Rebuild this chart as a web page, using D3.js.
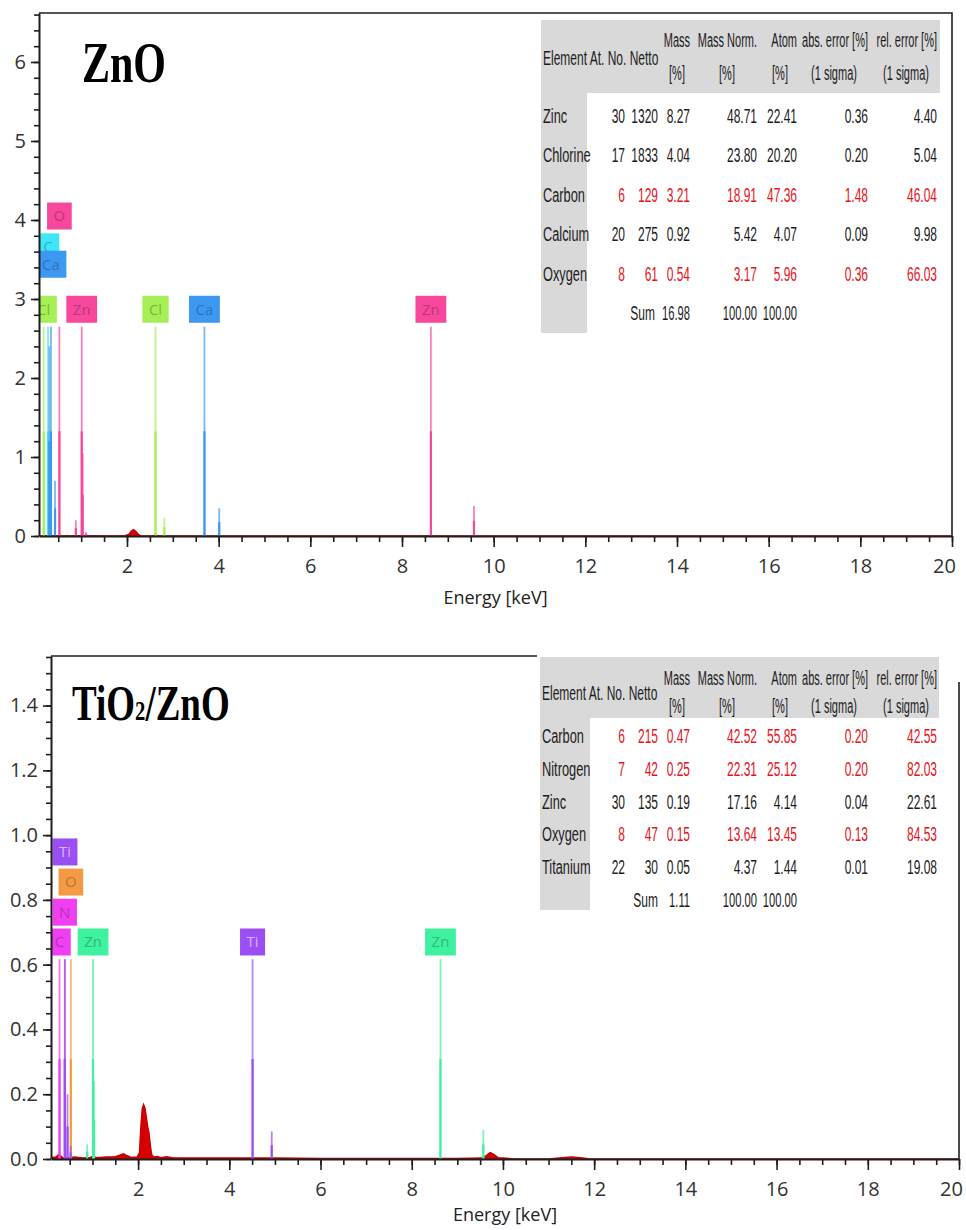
<!DOCTYPE html>
<html>
<head>
<meta charset="utf-8">
<script src="https://cdn.jsdelivr.net/npm/d3@7"></script>
<style>
  body { margin: 0; background: #fff; }
  svg { display: block; }
</style>
</head>
<body>
<svg id="chart"></svg>
<script>
// ---------- shared axis labels ----------
const xTickLabels = [2, 4, 6, 8, 10, 12, 14, 16, 18, 20];
const xTitle = "Energy [keV]";

// ---------- panel 1 : ZnO ----------
const znoTitle = "ZnO";
const znoYTicks = [0, 1, 2, 3, 4, 5, 6];
// spectrum [energy keV, counts]
const znoSpectrum = [
  [0.08, 0], [0.2, 0.004], [0.35, 0.003], [0.6, 0.002], [1.0, 0.003], [1.5, 0.002],
  [1.95, 0.003], [2.04, 0.02], [2.09, 0.06], [2.14, 0.08], [2.19, 0.06], [2.24, 0.025],
  [2.29, 0.004], [2.55, 0.002], [2.62, 0.01], [2.68, 0.002], [4, 0.001], [8.6, 0.002],
  [9, 0], [20, 0]
];
// element marker lines: energy, height
const znoLines = [
  { el: "Cl", e: 0.183, h: 2.65 },
  { el: "C",  e: 0.277, h: 2.65 },
  { el: "Ca", e: 0.306, h: 2.4 },
  { el: "Ca", e: 0.341, h: 2.65 },
  { el: "Ca", e: 0.43,  h: 0.7 },
  { el: "O",  e: 0.525, h: 2.65 },
  { el: "Zn", e: 0.884, h: 0.2 },
  { el: "Zn", e: 1.012, h: 2.65 },
  { el: "Zn", e: 1.034, h: 1.05 },
  { el: "Zn", e: 1.107, h: 0.05 },
  { el: "Cl", e: 2.622, h: 2.65 },
  { el: "Cl", e: 2.815, h: 0.23 },
  { el: "Ca", e: 3.69,  h: 2.65 },
  { el: "Ca", e: 4.012, h: 0.35 },
  { el: "Zn", e: 8.63,  h: 2.65 },
  { el: "Zn", e: 9.57,  h: 0.38 }
];
// element label boxes: energy, vertical centre
const znoLabels = [
  { el: "O",  e: 0.525, v: 4.05 },
  { el: "C",  e: 0.277, v: 3.66 },
  { el: "Ca", e: 0.341, v: 3.44 },
  { el: "Cl", e: 0.183, v: 2.87 },
  { el: "Zn", e: 1.012, v: 2.87 },
  { el: "Cl", e: 2.622, v: 2.87 },
  { el: "Ca", e: 3.69,  v: 2.87 },
  { el: "Zn", e: 8.63,  v: 2.87 }
];
const znoRows = [
  ["Zinc",     "30", "1320", "8.27", "48.71", "22.41", "0.36", "4.40"],
  ["Chlorine", "17", "1833", "4.04", "23.80", "20.20", "0.20", "5.04"],
  ["Carbon",   "6",  "129",  "3.21", "18.91", "47.36", "1.48", "46.04"],
  ["Calcium",  "20", "275",  "0.92", "5.42",  "4.07",  "0.09", "9.98"],
  ["Oxygen",   "8",  "61",   "0.54", "3.17",  "5.96",  "0.36", "66.03"]
];
const znoRed = ["Carbon", "Oxygen"];
const znoSum = ["16.98", "100.00", "100.00"];

// ---------- panel 2 : TiO2/ZnO ----------
const tzTitle = ["TiO", "2", "/ZnO"];
const tzYTicks = [0.0, 0.2, 0.4, 0.6, 0.8, 1.0, 1.2, 1.4];
const tzSpectrum = [
  [0.09, 0.004], [0.2, 0.006], [0.26, 0.014], [0.3, 0.01], [0.35, 0.004], [0.5, 0.003],
  [0.6, 0.006], [0.8, 0.003], [0.95, 0.005], [1.0, 0.008], [1.1, 0.004], [1.3, 0.006],
  [1.5, 0.007], [1.6, 0.012], [1.68, 0.016], [1.76, 0.01], [1.85, 0.005], [1.98, 0.006],
  [2.03, 0.02], [2.06, 0.1], [2.09, 0.155], [2.12, 0.168], [2.15, 0.158], [2.18, 0.13],
  [2.21, 0.1], [2.24, 0.08], [2.27, 0.04], [2.3, 0.012], [2.35, 0.006], [2.42, 0.008],
  [2.5, 0.004], [2.62, 0.007], [2.75, 0.004], [3, 0.003], [4, 0.003], [5, 0.003],
  [6, 0.002], [7, 0.002], [8, 0.002], [9, 0.002], [9.55, 0.003], [9.65, 0.012],
  [9.72, 0.02], [9.8, 0.014], [9.9, 0.004], [10.2, 0.001], [11, 0], [11.3, 0.004],
  [11.5, 0.006], [11.7, 0.004], [11.9, 0], [20, 0]
];
const tzLines = [
  { el: "C",  e: 0.277, h: 0.617 },
  { el: "N",  e: 0.392, h: 0.617 },
  { el: "Ti", e: 0.395, h: 0.617 },
  { el: "Ti", e: 0.452, h: 0.2 },
  { el: "O",  e: 0.525, h: 0.617 },
  { el: "Ti", e: 0.52,  h: 0.04 },
  { el: "Zn", e: 0.884, h: 0.045 },
  { el: "Zn", e: 1.012, h: 0.617 },
  { el: "Zn", e: 1.034, h: 0.24 },
  { el: "Ti", e: 4.51,  h: 0.617 },
  { el: "Ti", e: 4.93,  h: 0.085 },
  { el: "Zn", e: 8.63,  h: 0.617 },
  { el: "Zn", e: 9.57,  h: 0.09 }
];
const tzLabels = [
  { el: "Ti", e: 0.395, v: 0.948 },
  { el: "O",  e: 0.525, v: 0.855 },
  { el: "N",  e: 0.392, v: 0.762 },
  { el: "C",  e: 0.277, v: 0.670 },
  { el: "Zn", e: 1.012, v: 0.670 },
  { el: "Ti", e: 4.51,  v: 0.670 },
  { el: "Zn", e: 8.63,  v: 0.670 }
];
const tzRows = [
  ["Carbon",   "6",  "215", "0.47", "42.52", "55.85", "0.20", "42.55"],
  ["Nitrogen", "7",  "42",  "0.25", "22.31", "25.12", "0.20", "82.03"],
  ["Zinc",     "30", "135", "0.19", "17.16", "4.14",  "0.04", "22.61"],
  ["Oxygen",   "8",  "47",  "0.15", "13.64", "13.45", "0.13", "84.53"],
  ["Titanium", "22", "30",  "0.05", "4.37",  "1.44",  "0.01", "19.08"]
];
const tzRed = ["Carbon", "Nitrogen", "Oxygen"];
const tzSum = ["1.11", "100.00", "100.00"];

// table headers (both panels)
const headTop = ["Mass", "Mass Norm.", "Atom", "abs. error [%]", "rel. error [%]"];
const headBottom = ["[%]", "[%]", "[%]", "(1 sigma)", "(1 sigma)"];
const headLeft = "Element At. No. Netto";

// ---------- colours ----------
const znoColors = { Zn: "#f7489e", O: "#f7489e", Cl: "#a6ef55", Ca: "#3d98f2", C: "#3fe6f5" };
const tzColors  = { Ti: "#9b4ef2", O: "#f59a44", N: "#f03ff0", C: "#f03ff0", Zn: "#3ff2a0" };

const W = 966, H = 1230;
const svg = d3.select("#chart").attr("width", W).attr("height", H);
svg.append("rect").attr("width", W).attr("height", H).attr("fill", "#fff");

const ink = "#1e1e1e";
const tickFont = "'Open Sans', 'DejaVu Sans', sans-serif";

function drawPanel(p) {
  const x = d3.scaleLinear().domain(p.xDomain).range([p.left, p.right]);
  const y = d3.scaleLinear().domain([0, p.yMax]).range([p.bottom, p.top]);
  const g = svg.append("g");

  g.append("clipPath").attr("id", p.id + "-clip")
    .append("rect")
    .attr("x", p.left).attr("y", p.top)
    .attr("width", p.right - p.left).attr("height", p.bottom - p.top);
  const plot = g.append("g").attr("clip-path", `url(#${p.id}-clip)`);

  // spectrum
  plot.append("path")
    .datum(p.spectrum)
    .attr("d", d3.area().x(d => x(d[0])).y0(y(0)).y1(d => y(d[1])))
    .attr("fill", "#d60000")
    .attr("stroke", "#c40000")
    .attr("stroke-width", 1.4);

  // marker lines: light full line + stronger lower half
  const mk = plot.selectAll("g.mk").data(p.lines).join("g").attr("class", "mk");
  mk.append("line")
    .attr("x1", d => x(d.e)).attr("x2", d => x(d.e))
    .attr("y1", y(0)).attr("y2", d => y(d.h))
    .attr("stroke", d => p.colors[d.el])
    .attr("stroke-opacity", 0.7)
    .attr("stroke-width", 1.8);
  mk.append("line")
    .attr("x1", d => x(d.e)).attr("x2", d => x(d.e))
    .attr("y1", y(0)).attr("y2", d => y(d.h / 2))
    .attr("stroke", d => p.colors[d.el])
    .attr("stroke-width", 2.2);

  // label boxes
  p.labels.forEach(d => {
    const c = p.colors[d.el];
    const lg = plot.append("g");
    const rect = lg.append("rect");
    const t = lg.append("text")
      .attr("x", x(d.e)).attr("y", y(d.v))
      .attr("dy", "0.36em")
      .attr("text-anchor", "middle")
      .style("font-family", tickFont)
      .style("font-size", "15px")
      .attr("fill", d.el === "Ti" ? "#e6d6ff" : d3.color(c).darker(1.1))
      .attr("fill-opacity", 0.75)
      .text(d.el);
    const w = t.node().getComputedTextLength() + 13;
    rect.attr("x", x(d.e) - w / 2).attr("y", y(d.v) - 13.5)
      .attr("width", w).attr("height", 27)
      .attr("fill", c);
  });

  // axes
  const styleAxis = a => {
    a.selectAll("path.domain").attr("stroke", ink).attr("stroke-width", 2);
    a.selectAll(".tick line").attr("stroke", ink).attr("stroke-width", 1.6);
    a.selectAll(".tick text").attr("fill", "#333")
      .style("font-family", tickFont).style("font-size", "20px");
  };

  const xMinor = d3.range(0.5, 20.001, 0.5).filter(v => v >= p.xDomain[0]);
  g.append("g").attr("transform", `translate(0,${p.bottom})`)
    .call(d3.axisBottom(x).tickValues(xMinor).tickSize(6).tickFormat("").tickSizeOuter(0))
    .call(a => a.select(".domain").remove())
    .call(styleAxis);
  const xa = g.append("g").attr("transform", `translate(0,${p.bottom})`)
    .call(d3.axisBottom(x).tickValues(xTickLabels).tickSize(11).tickPadding(12).tickSizeOuter(0))
    .call(styleAxis);
  xa.selectAll(".tick text").filter(v => v === 20).attr("dx", -8);

  const yMinor = d3.range(0, p.yMax, p.yMinorStep);
  g.append("g").attr("transform", `translate(${p.left},0)`)
    .call(d3.axisLeft(y).tickValues(yMinor).tickSize(5).tickFormat("").tickSizeOuter(0))
    .call(a => a.select(".domain").remove())
    .call(styleAxis);
  g.append("g").attr("transform", `translate(${p.left},0)`)
    .call(d3.axisLeft(y).tickValues(p.yTicks).tickSize(8).tickPadding(5)
      .tickFormat(p.yFormat).tickSizeOuter(0))
    .call(styleAxis);

  // frame (top + right)
  g.append("path")
    .attr("d", `M${p.left},${p.top}H${p.right}V${p.bottom}`)
    .attr("fill", "none").attr("stroke", ink).attr("stroke-width", 1.6);

  // x axis title
  g.append("text")
    .attr("x", (p.left + p.right) / 2).attr("y", p.bottom + p.titleOffset)
    .attr("text-anchor", "middle")
    .attr("fill", "#222")
    .style("font-family", tickFont).style("font-size", "18px")
    .text(xTitle);

  return g;
}

// squeezed table text, like the pasted result table
function tText(g, str, px, py, anchor, color, sx = 0.6) {
  g.append("text")
    .attr("transform", `translate(${px},${py}) scale(${sx},1)`)
    .attr("text-anchor", anchor)
    .attr("fill", color)
    .style("font-family", "'Liberation Sans', Arial, sans-serif")
    .style("font-size", "20px")
    .text(str);
}

function drawTable(t) {
  const g = svg.append("g");
  if (t.cover) {
    g.append("rect").attr("x", t.cover[0]).attr("y", t.cover[1])
      .attr("width", t.cover[2]).attr("height", t.cover[3]).attr("fill", "#fff");
  }
  g.append("rect").attr("x", t.x0).attr("y", t.headTop)
    .attr("width", t.x1 - t.x0).attr("height", t.headBot - t.headTop).attr("fill", "#d9d9d9");
  g.append("rect").attr("x", t.x0).attr("y", t.headBot)
    .attr("width", t.colW).attr("height", t.colBot - t.headBot).attr("fill", "#d9d9d9");

  const black = "#1c1c1c", red = "#e5141c";
  const headEnds = [690, 757, 797, 868, 937];
  const headMids = [677, 727, 780, 834, 906];
  headTop.forEach((s, i) => tText(g, s, headEnds[i], t.line1, "end", black, 0.55));
  headBottom.forEach((s, i) => tText(g, s, headMids[i], t.line2, "middle", black, 0.55));
  tText(g, headLeft, t.x0 + 2, t.lineMid, "start", black);

  // column right edges for the numeric cells
  const ends = [625, 658, 690, 757, 797, 868, 937];
  t.rows.forEach((r, i) => {
    const yy = t.row0 + i * t.rowStep;
    const col = t.red.includes(r[0]) ? red : black;
    tText(g, r[0], t.x0 + 2, yy, "start", black, 0.64);
    r.slice(1).forEach((s, j) => tText(g, s, ends[j], yy, "end", col));
  });
  const ys = t.row0 + t.rows.length * t.rowStep;
  tText(g, "Sum", t.sumEnd, ys, "end", black);
  tText(g, t.sum[0], 690, ys, "end", black, 0.56);
  tText(g, t.sum[1], 757, ys, "end", black, 0.56);
  tText(g, t.sum[2], 797, ys, "end", black, 0.56);
}

// ---------- panel 1 ----------
drawPanel({
  id: "zno", left: 39, right: 952, top: 13, bottom: 536, titleOffset: 68,
  xDomain: [0.08, 20], yMax: 6.62, yTicks: znoYTicks, yMinorStep: 0.2,
  yFormat: d3.format("d"),
  spectrum: znoSpectrum, lines: znoLines, labels: znoLabels, colors: znoColors
});
drawTable({
  x0: 541, x1: 940, colW: 46, headTop: 20, headBot: 93, colBot: 333,
  line1: 47, line2: 80, lineMid: 65, row0: 123, rowStep: 39.4, sumEnd: 655,
  rows: znoRows, red: znoRed, sum: znoSum
});
svg.append("text")
  .attr("transform", "translate(82,82) scale(0.75,1)")
  .attr("fill", "#000")
  .style("font-family", "'Liberation Serif', 'Times New Roman', serif")
  .style("font-weight", "bold").style("font-size", "56px")
  .text(znoTitle);

// ---------- panel 2 ----------
drawPanel({
  id: "tz", left: 51, right: 959, top: 656, bottom: 1159, titleOffset: 62,
  xDomain: [0.09, 20], yMax: 1.553, yTicks: tzYTicks, yMinorStep: 0.05,
  yFormat: d3.format(".1f"),
  spectrum: tzSpectrum, lines: tzLines, labels: tzLabels, colors: tzColors
});
drawTable({
  cover: [537, 648, 427, 34],
  x0: 540, x1: 939, colW: 50, headTop: 657, headBot: 718, colBot: 910,
  line1: 685, line2: 713, lineMid: 700, row0: 743, rowStep: 32.8, sumEnd: 658,
  rows: tzRows, red: tzRed, sum: tzSum
});
const tt = svg.append("text")
  .attr("transform", "translate(72,720) scale(0.74,1)")
  .attr("fill", "#000")
  .style("font-family", "'Liberation Serif', 'Times New Roman', serif")
  .style("font-weight", "bold").style("font-size", "50px");
tt.append("tspan").text(tzTitle[0]);
tt.append("tspan").style("font-size", "28px").text(tzTitle[1]);
tt.append("tspan").text(tzTitle[2]);
</script>
</body>
</html>
